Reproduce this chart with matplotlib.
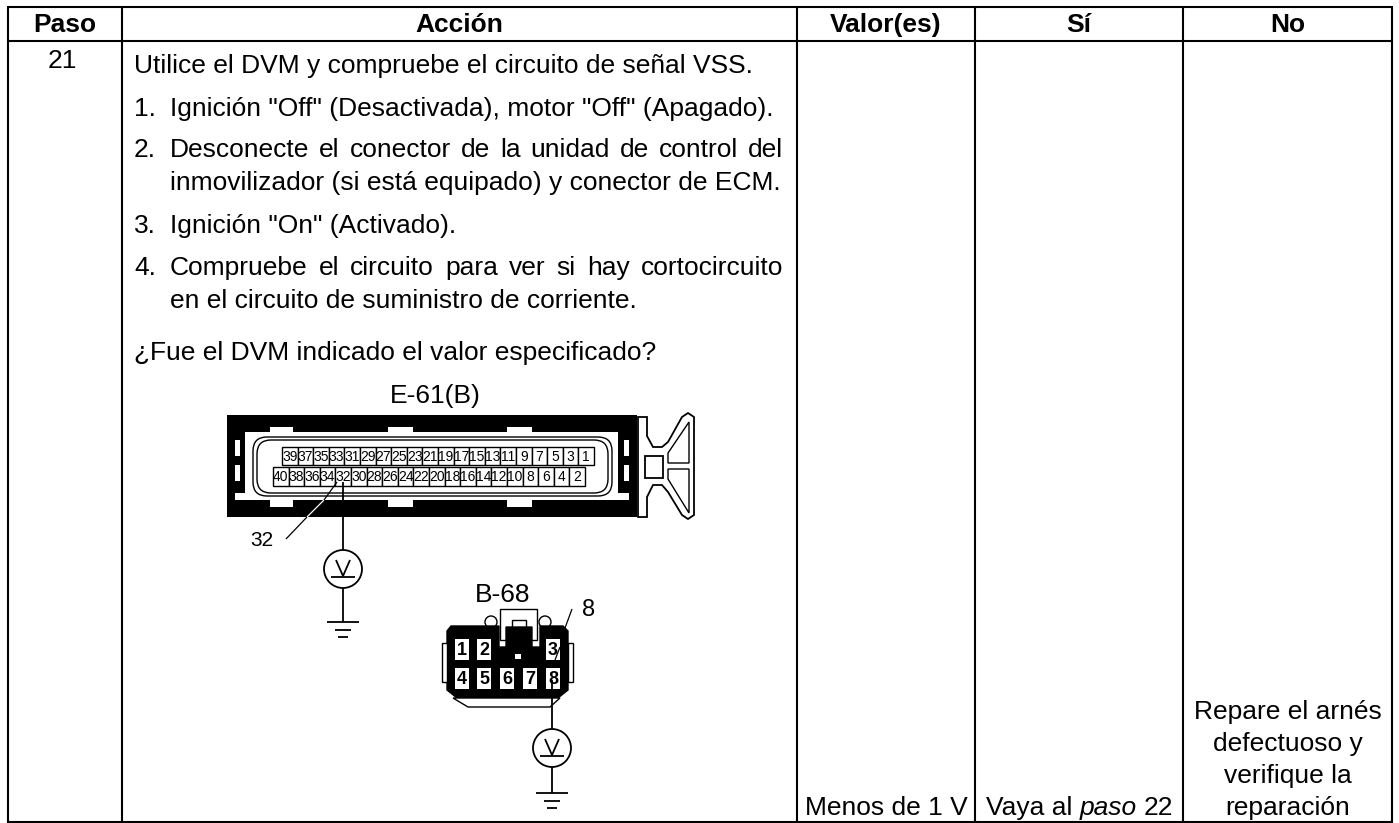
#!/usr/bin/env python3
import matplotlib
matplotlib.use('Agg')
import matplotlib.pyplot as plt
from matplotlib.patches import Circle, FancyBboxPatch, Polygon, Rectangle

plt.rcParams['font.family'] = ['Liberation Sans', 'DejaVu Sans']

W, H = 1399, 823
FS = 19

# table text
headers = ['Paso', 'Acción', 'Valor(es)', 'Sí', 'No']
step = '21'
intro = 'Utilice el DVM y compruebe el circuito de señal VSS.'
items = [
    ('1.', 'Ignición "Off" (Desactivada), motor "Off" (Apagado).', False),
    ('2.', 'Desconecte el conector de la unidad de control del', True),
    ('', 'inmovilizador (si está equipado) y conector de ECM.', False),
    ('3.', 'Ignición "On" (Activado).', False),
    ('4.', 'Compruebe el circuito para ver si hay cortocircuito', True),
    ('', 'en el circuito de suministro de corriente.', False),
]
item_y = [116, 157, 190, 233, 275, 308]
question = '¿Fue el DVM indicado el valor especificado?'
value = 'Menos de 1 V'
no_lines = ['Repare el arnés', 'defectuoso y', 'verifique la', 'reparación']
no_y = [719, 751, 783, 815]

# table grid
col_x = [8, 122, 797, 975, 1183, 1392]
row_y = [7, 41, 822]

# connector labels
e61_top = ['39', '37', '35', '33', '31', '29', '27', '25', '23', '21',
           '19', '17', '15', '13', '11', '9', '7', '5', '3', '1']
e61_bottom = ['40', '38', '36', '34', '32', '30', '28', '26', '24', '22',
              '20', '18', '16', '14', '12', '10', '8', '6', '4', '2']
b68_top = ['1', '2', '', '', '3']
b68_bottom = ['4', '5', '6', '7', '8']
b68_x = [462, 484, 507, 530, 553]

fig = plt.figure(figsize=(W / 100, H / 100), dpi=100)
ax = fig.add_axes([0, 0, 1, 1])
ax.set_xlim(0, W)
ax.set_ylim(H, 0)
ax.axis('off')


def line(xs, ys, lw=1.0, color='black'):
    ax.plot(xs, ys, color=color, lw=lw, solid_capstyle='butt', solid_joinstyle='miter')


def box(x0, y0, x1, y1, fc='white', ec='none', lw=0.8):
    ax.add_patch(Rectangle((x0, y0), x1 - x0, y1 - y0, fc=fc, ec=ec, lw=lw))


def poly(xs, ys, fc='white', ec='black', lw=1.0):
    ax.add_patch(Polygon(list(zip(xs, ys)), closed=True, fc=fc, ec=ec, lw=lw))


def txt(x, y, s, size=FS, ha='left', **kw):
    return ax.text(x, y, s, fontsize=size, ha=ha, va='baseline', color='black', **kw)


def width(t):
    return t.get_window_extent(fig.canvas.get_renderer()).width


def justified(x0, x1, y, s):
    # spread the words so the line fills the cell
    parts = [txt(0, y, w) for w in s.split(' ')]
    widths = [width(p) for p in parts]
    gap = (x1 - x0 - sum(widths)) / (len(parts) - 1)
    x = x0
    for p, w in zip(parts, widths):
        p.set_x(x)
        x += w + gap


def voltmeter(cx, cy, y_top, y_ground):
    line([cx, cx], [y_top, cy - 19], 1.3)
    ax.add_patch(Circle((cx, cy), 19, fc='white', ec='black', lw=1.3))
    line([cx - 7, cx, cx + 7], [cy - 9, cy + 7, cy - 9], 1.3)
    line([cx - 12, cx + 12], [cy + 8, cy + 8], 1.3)
    line([cx, cx], [cy + 19, y_ground], 1.3)
    line([cx - 16, cx + 16], [y_ground, y_ground], 1.3)
    line([cx - 8, cx + 8], [y_ground + 8, y_ground + 8], 1.3)
    line([cx - 5, cx + 5], [y_ground + 15, y_ground + 15], 1.3)


# grid
for x in col_x:
    line([x, x], [row_y[0] - 1, row_y[-1] + 1], 1.5)
for y in row_y:
    line([col_x[0], col_x[-1]], [y, y], 1.5)

# header
for i, h in enumerate(headers):
    txt((col_x[i] + col_x[i + 1]) / 2, 32, h, ha='center', fontweight='bold')

txt(62, 68, step, ha='center')
txt(134, 73, intro)
for (num, body, just), y in zip(items, item_y):
    if num:
        txt(134, y, num)
    if just:
        justified(170, 783, y, body)
    else:
        txt(170, y, body)
txt(134, 360, question)

txt((col_x[2] + col_x[3]) / 2, 815, value, ha='center')

# "Vaya al paso 22", the middle word is italic
x = 986
for s, style in [('Vaya al', 'normal'), ('paso', 'italic'), ('22', 'normal')]:
    t = txt(x, 815, s, style=style)
    x += width(t) + 7.3

for s, y in zip(no_lines, no_y):
    txt((col_x[4] + col_x[5]) / 2, y, s, ha='center')

# E-61 connector
txt(435, 403, 'E-61(B)', ha='center')
box(227, 415, 637, 517, fc='black')
box(245, 432, 618, 500)
for x0, x1 in [(270, 293), (388, 413), (507, 532)]:
    box(x0, 427, x1, 433)
    box(x0, 499, x1, 507)
for x0 in [235, 624]:
    box(x0, 440, x0 + 4.5, 456)
    box(x0, 465, x0 + 4.5, 481)
box(235, 493, 246, 500)
box(617, 493, 629, 500)
for x0, y0, w, h in [(253, 437, 359, 59), (257, 440, 351, 53)]:
    ax.add_patch(FancyBboxPatch((x0 + 14, y0 + 14), w - 28, h - 28, fc='white', ec='black', lw=1.0,
                                boxstyle='round,pad=14,rounding_size=14'))
cell = 15.6
for i, s in enumerate(e61_top):
    x0 = 282 + i * cell
    box(x0, 447, x0 + cell, 465, ec='black', lw=1.0)
    txt(x0 + cell / 2, 461, s, size=10, ha='center')
for i, s in enumerate(e61_bottom):
    x0 = 273 + i * cell
    box(x0, 467, x0 + cell, 486, ec='black', lw=1.0)
    txt(x0 + cell / 2, 481, s, size=10, ha='center')

# E-61 latch
poly([638, 647, 647, 653, 662, 668, 682, 688, 694, 694, 688, 682, 668, 662, 653, 647, 647, 638],
     [417, 417, 436, 447, 447, 442, 417, 413, 417, 515, 519, 515, 492, 485, 485, 497, 517, 517], lw=1.3)
box(645, 456, 663, 478, ec='black', lw=1.3)
poly([668, 689, 689, 668], [453, 422, 463, 463], lw=1.0)
poly([668, 689, 689, 668], [469, 469, 513, 479], lw=1.0)

# E-61 leaders
txt(262, 546, '32', size=15, ha='center')
line([286, 307], [539, 517], 0.9)
line([307, 324], [517, 500], 0.9, color='white')
line([324, 337], [500, 482], 0.9)
voltmeter(343, 569, 482, 622)

# B-68 connector
txt(503, 602, 'B-68', ha='center')
box(500, 609, 537, 640, ec='black', lw=1.0)
box(512, 620, 526, 630, ec='black', lw=1.0)
for cx in [491, 545]:
    ax.add_patch(Circle((cx, 622), 6, fc='white', ec='black', lw=1.0))
poly([447, 451, 499, 499, 506, 506, 532, 532, 540, 540, 563, 568, 568, 558, 457, 447],
     [631, 626, 626, 647, 647, 627, 627, 647, 647, 626, 626, 631, 690, 698, 698, 690],
     fc='black', ec='black')
poly([453, 560, 550, 468], [698, 698, 707, 707], lw=1.0)
box(442, 643, 447, 682, ec='black', lw=1.0)
box(568, 643, 573, 682, ec='black', lw=1.0)
for s, x in zip(b68_top, b68_x):
    if s:
        box(x - 7, 639, x + 7, 660)
        txt(x, 655, s, size=13, ha='center', fontweight='bold')
for s, x in zip(b68_bottom, b68_x):
    box(x - 7, 668, x + 7, 689)
    txt(x, 684, s, size=13, ha='center', fontweight='bold')
box(515, 654, 521, 659)
txt(589, 616, '8', size=17, ha='center')
line([572, 565], [609, 628], 0.9)
line([560, 555], [647, 660], 0.9)
voltmeter(552, 748, 680, 793)

fig.savefig('out.png', dpi=100)
